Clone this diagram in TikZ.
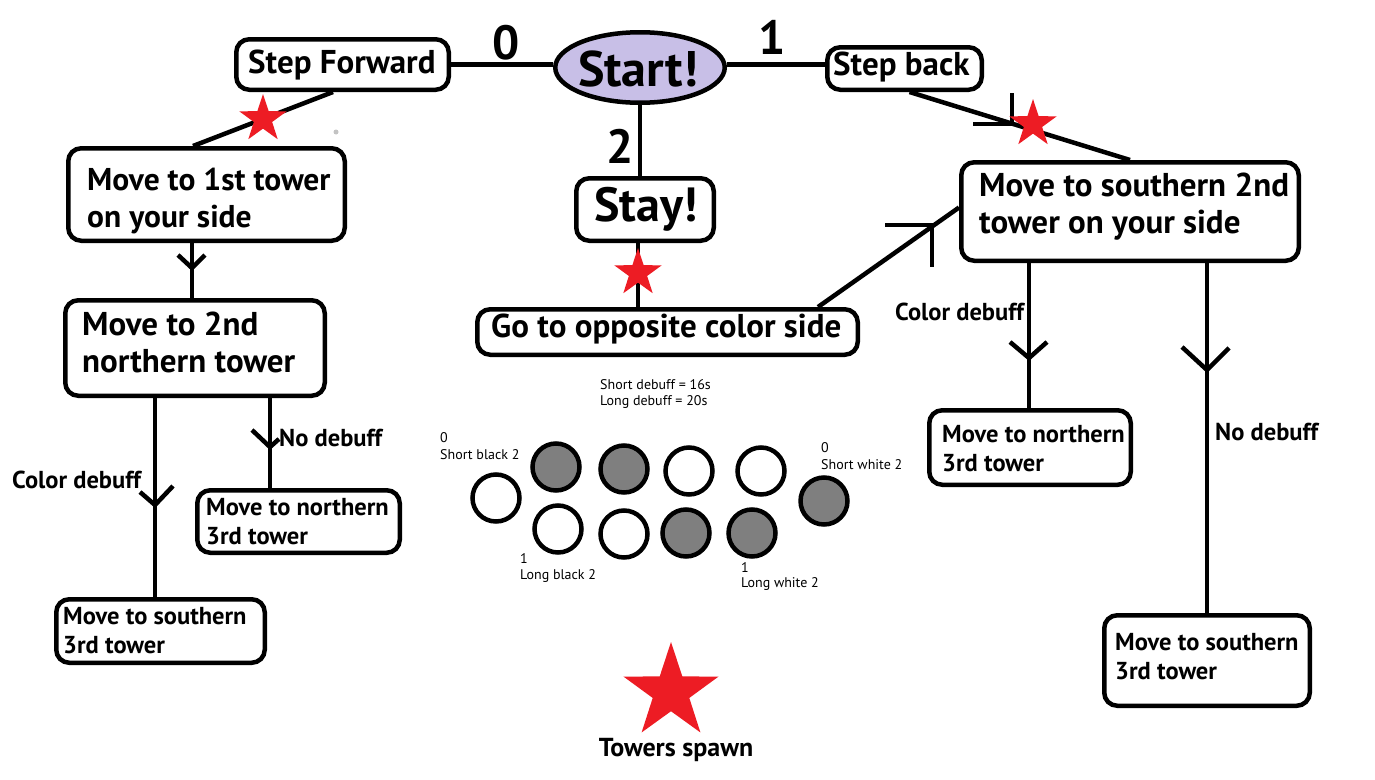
\documentclass[tikz,border=0pt]{standalone}
\usepackage{fontspec}
\setmainfont{PT Sans}
\usetikzlibrary{shapes.geometric,calc}
\definecolor{lav}{HTML}{C8BFE7}
\definecolor{starred}{HTML}{ED1C24}
\definecolor{tgray}{HTML}{7F7F7F}
\definecolor{dotgray}{HTML}{C3C3C3}
\begin{document}
\begin{tikzpicture}[x=1pt,y=-1pt,
  box/.style={draw, line width=4.5pt, rounded corners=13pt, inner sep=0pt, fill=white},
  conn/.style={line width=4.5pt},
  hand/.style={line width=4.5pt},
  bigtxt/.style={font=\bfseries\fontsize{33}{37}\selectfont, align=left, inner sep=0pt},
  medtxt/.style={font=\bfseries\fontsize{24.5}{29}\selectfont, align=left, inner sep=0pt},
  hugetxt/.style={font=\bfseries\fontsize{48}{54}\selectfont, inner sep=0pt},
  smalltxt/.style={font=\fontsize{14}{16}\selectfont, inner sep=0pt, anchor=west},
  circ/.style={circle, draw, line width=4.5pt, minimum size=47pt, inner sep=0pt},
  wcirc/.style={circ, fill=white},
  gcirc/.style={circ, fill=tgray},
  tstar/.style={star, star points=5, star point ratio=2.6, fill=starred, inner sep=0pt, minimum size=50pt}
]
\useasboundingbox (0,0) rectangle (1375,779);
\fill[white] (0,0) rectangle (1375,779);

% boxes
\node[draw, ellipse, line width=4.5pt, fill=lav, minimum width=169.5pt, minimum height=70.5pt, inner sep=0pt] (start) at (640,67.5) {};
\node[box, minimum width=212.5pt, minimum height=50.5pt] (stepfwd) at (342.5,64.5) {};
\node[box, minimum width=154.5pt, minimum height=42.5pt] (stepback) at (904.5,68.5) {};
\node[box, minimum width=137.5pt, minimum height=62.5pt] (stay) at (645,209.5) {};
\node[box, minimum width=380.5pt, minimum height=45.5pt] (goto) at (667.5,332) {};
\node[box, minimum width=276.5pt, minimum height=92.5pt] (move1st) at (206.5,194.5) {};
\node[box, minimum width=259.5pt, minimum height=95.5pt] (move2nd) at (195,348) {};
\node[box, minimum width=202.5pt, minimum height=62.5pt] (northL) at (298.5,521.5) {};
\node[box, minimum width=208.5pt, minimum height=63.5pt] (southL) at (160.5,631) {};
\node[box, minimum width=337.5pt, minimum height=98.5pt] (south2nd) at (1130,211.5) {};
\node[box, minimum width=201.5pt, minimum height=74.5pt] (northR) at (1030,447.5) {};
\node[box, minimum width=205.5pt, minimum height=90.5pt] (southR) at (1207,660.5) {};

% helper x positions for vertical connectors
\coordinate (xs) at (638,0);
\coordinate (xa) at (192,0);
\coordinate (xb) at (155,0);
\coordinate (xc) at (270,0);
\coordinate (xd) at (1029,0);
\coordinate (xe) at (1207,0);

% connectors
\draw[conn] (stepfwd.east) -- (stepfwd.east -| start.west);
\draw[conn] (start.east |- stepfwd.east) -- (stepback.west |- stepfwd.east);
\draw[conn] (start.south) -- (start.south |- stay.north);
\draw[conn] (stay.south -| xs) -- (goto.north -| xs);
\draw[conn] ([xshift=150.5pt]goto.north) -- ([yshift=4pt]south2nd.west);
\draw[conn] ([xshift=5pt]stepback.south) -- (south2nd.north);
\draw[conn] ([xshift=-9.5pt]stepfwd.south) -- ([xshift=-13.5pt]move1st.north);
\draw[conn] (move1st.south -| xa) -- (move2nd.north -| xa);
\draw[conn] (move2nd.south -| xb) -- (southL.north -| xb);
\draw[conn] (move2nd.south -| xc) -- (northL.north -| xc);
\draw[conn] (south2nd.south -| xd) -- (northR.north -| xd);
\draw[conn] (south2nd.south -| xe) -- (southR.north -| xe);

% hand drawn arrowheads
\draw[hand] (178,255) -- (192,268) -- (205,255);
\draw[hand] (140,492) -- (155,505) -- (173,486);
\draw[hand] (252,430) -- (270,447) -- (279,439);
\draw[hand] (1010,342) -- (1029,358) -- (1047,342);
\draw[hand] (1182,347) -- (1207,370) -- (1229,348);
\draw[hand] (885,225) -- (932,225) -- (932,267);
\draw[hand] (1012,93) -- (1012,124) -- (973,124);

% stars
\node[tstar] (starL) at (263,119) {};
\node[tstar] (starM) at (638,273) {};
\node[tstar] (starR) at (1033,124) {};
\node[tstar, minimum size=100pt] (starB) at (671,692) {};
\fill[dotgray] (336,132) circle (2.5pt);

% box texts
\node[hugetxt, font=\bfseries\fontsize{50}{56}\selectfont] (tstart) at (638,69) {Start!};
\node[hugetxt] (tstay) at (646,209) {Stay!};
\node[hugetxt] (t0) at (506,43) {0};
\node[hugetxt] (t1) at (772,37) {1};
\node[hugetxt] (t2) at (620,146) {2};
\node[bigtxt, anchor=west] (tsf) at (248,65) {Step Forward};
\node[bigtxt, anchor=west] (tsb) at (833,67) {Step back};
\node[bigtxt, anchor=west] (tgo) at (491,329) {Go to opposite color side};
\node[bigtxt, anchor=west, font=\bfseries\fontsize{31.5}{37}\selectfont] (tm1) at (87,201) {Move to 1st tower\\on your side};
\node[bigtxt, anchor=west] (tm2) at (82,342) {Move to 2nd\\northern tower};
\node[bigtxt, anchor=west] (ts2) at (979,207) {Move to southern 2nd\\tower on your side};
\node[medtxt, anchor=west] (tnl) at (206,522) {Move to northern\\3rd tower};
\node[medtxt, anchor=west] (tsl) at (63,631) {Move to southern\\3rd tower};
\node[medtxt, anchor=west] (tnr) at (942,449) {Move to northern\\3rd tower};
\node[medtxt, anchor=west] (tsr) at (1115,657) {Move to southern\\3rd tower};

% edge labels
\node[medtxt, anchor=west] (lcdl) at (12,480) {Color debuff};
\node[medtxt, anchor=west] (lndl) at (279,438) {No debuff};
\node[medtxt, anchor=west] (lcdr) at (895,312) {Color debuff};
\node[medtxt, anchor=west] (lndr) at (1215,432) {No debuff};
\node[medtxt, font=\bfseries\fontsize{26}{30}\selectfont] (lspawn) at (676,750) {Towers spawn};

% circles
\node[wcirc] (c1) at (496,498) {};
\node[gcirc] (c2) at (556,467) {};
\node[gcirc] (c3) at (624,469) {};
\node[wcirc] (c4) at (689,471) {};
\node[wcirc] (c5) at (761,471) {};
\node[gcirc] (c6) at (824,501) {};
\node[wcirc] (c7) at (558,529) {};
\node[wcirc] (c8) at (624,534) {};
\node[gcirc] (c9) at (686,533) {};
\node[gcirc] (c10) at (752,533) {};

% small texts
\node[smalltxt] (s1) at (600,385) {Short debuff = 16s};
\node[smalltxt] (s2) at (600,402) {Long debuff = 20s};
\node[smalltxt] (s3) at (440,438) {0};
\node[smalltxt] (s4) at (440,455) {Short black 2};
\node[smalltxt] (s5) at (821,448) {0};
\node[smalltxt] (s6) at (821,465) {Short white 2};
\node[smalltxt] (s7) at (520,559) {1};
\node[smalltxt] (s8) at (520,576) {Long black 2};
\node[smalltxt] (s9) at (741,568) {1};
\node[smalltxt] (s10) at (741,584) {Long white 2};
\end{tikzpicture}
\end{document}
